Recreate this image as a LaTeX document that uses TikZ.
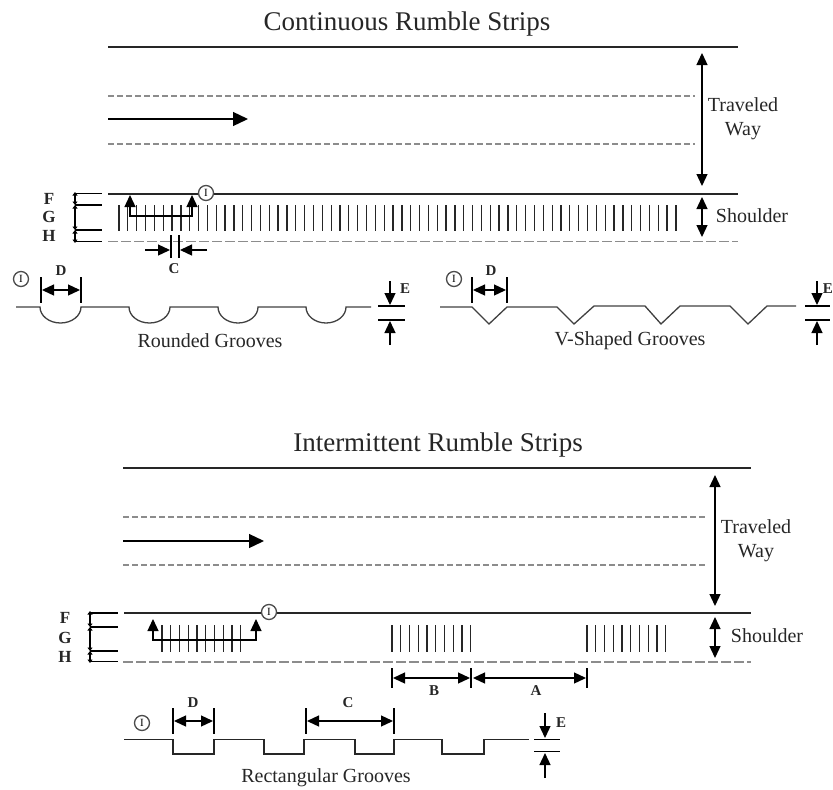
\documentclass[tikz,border=0pt]{standalone}
\usepackage{fontspec}
\setmainfont{Liberation Serif}
\usetikzlibrary{arrows.meta,calc,positioning}

\begin{document}
\begin{tikzpicture}[x=1pt,y=-1pt,>={Stealth[inset=0pt,length=12pt,width=11pt]},
	road/.style={line width=1.5pt,black!85},
	lane/.style={black!45,line width=1.5pt,dash pattern=on 6pt off 3pt},
	edgeline/.style={black!45,line width=1.5pt,dash pattern=on 9.5pt off 3.5pt},
	groove/.style={line width=1.3pt,black!85},
	dim/.style={line width=1.3pt},
	flow/.style={->,>={Stealth[inset=0pt,length=15pt,width=14pt]},line width=1.3pt},
	tiny/.style={<->,>={Stealth[inset=0pt,length=3.5pt,width=5pt]},line width=1.3pt},
	title/.style={font=\fontsize{27}{30}\selectfont,text=black!85,inner sep=0pt},
	txt/.style={font=\fontsize{20}{24}\selectfont,text=black!85,inner sep=0pt},
	ltr/.style={font=\fontsize{15}{18}\selectfont\bfseries,text=black!85,inner sep=0pt},
	off/.style={font=\fontsize{17}{18}\selectfont\bfseries,text=black!85,inner sep=0pt},
	mark1/.style={circle,draw=black!70,fill=white,line width=1.3pt,minimum size=15pt,inner sep=0pt,font=\fontsize{11}{11}\selectfont}]
	\useasboundingbox (0,0) rectangle (833,790);

	% continuous
	\node[title] (t_1) at (407,24) {Continuous Rumble Strips};
	\coordinate (a_1) at (108,47); \coordinate (a_2) at (738,47);
	\coordinate (a_3) at (108,96); \coordinate (a_4) at (695,96);
	\coordinate (a_5) at (108,144); \coordinate (a_6) at (695,144);
	\coordinate (a_7) at (108,119); \coordinate (a_8) at (248,119);
	\coordinate (a_9) at (108,194); \coordinate (a_10) at (738,194);
	\coordinate (a_11) at (108,241.5); \coordinate (a_12) at (738,241.5);
	\coordinate (w_1) at (702,53); \coordinate (w_2) at (702,186);
	\coordinate (s_1) at (702,197); \coordinate (s_2) at (702,237);
	\draw[road] (a_1) -- (a_2);
	\draw[road] (a_9) -- (a_10);
	\draw[lane] (a_3) -- (a_4);
	\draw[lane] (a_5) -- (a_6);
	\draw[edgeline] (a_11) -- (a_12);
	\draw[flow] (a_7) -- (a_8);
	\draw[<->,dim] (w_1) -- (w_2);
	\draw[<->,dim] (s_1) -- (s_2);
	\node[txt,align=center] (way_1) at (743,119) {Traveled\\Way};
	\node[txt] (sh_1) at (752,216) {Shoulder};
	\foreach \i in {0,...,63}
		\draw[groove] ({119+8.84*\i},205) -- ({119+8.84*\i},231);
	\node[mark1] (i_1) at (206,193) {I};

	% offsets
	\draw[dim] (75,193.5) -- (102,193.5) (75,205) -- (102,205) (75,230) -- (102,230) (75,241.5) -- (102,241.5);
	\draw[tiny] (75,192) -- (75,205);
	\draw[tiny] (75,205) -- (75,230);
	\draw[tiny] (75,230) -- (75,243);
	\node[off] (f_1) at (49,199) {F};
	\node[off] (g_1) at (49,217) {G};
	\node[off] (h_1) at (49,236) {H};
	\draw[<->,dim] (130,195) -- (130,216) -- (192,216) -- (192,195);

	% spacing
	\draw[dim] (171,235) -- (171,258) (179,235) -- (179,258);
	\draw[->,dim] (145,250) -- (170,250);
	\draw[->,dim] (207,250) -- (180,250);
	\node[ltr] (c_1) at (174,269) {C};

	% rounded
	\node[mark1] (i_2) at (21,279) {I};
	\draw[dim] (41,277) -- (41,303) (81,277) -- (81,303);
	\draw[<->,dim] (42,290) -- (80,290);
	\node[ltr] (d_1) at (61,271) {D};
	\draw[groove,black!75] (16,307) -- (40,307) arc[start angle=180,end angle=360,x radius=20.5,y radius=-16] -- (129,307) arc[start angle=180,end angle=360,x radius=20.5,y radius=-16] -- (218,307) arc[start angle=180,end angle=360,x radius=20,y radius=-16] -- (306,307) arc[start angle=180,end angle=360,x radius=20,y radius=-16] -- (371,307);
	\draw[->,dim] (390,281) -- (390,305);
	\draw[->,dim] (390,345) -- (390,321);
	\draw[dim] (378,306) -- (405,306) (378,320) -- (405,320);
	\node[ltr] (e_1) at (405,289) {E};
	\node[txt] (r_1) at (210,341) {Rounded Grooves};

	% v-shaped
	\node[mark1] (i_3) at (454,279) {I};
	\draw[dim] (472,277) -- (472,303) (507,277) -- (507,303);
	\draw[<->,dim] (473,290) -- (506,290);
	\node[ltr] (d_2) at (491,271) {D};
	\draw[groove,black!75] (440,307) -- (472,307) -- (489,324) -- (507,307) -- (557,307) -- (574,324) -- (594,306) -- (645,306) -- (661,324) -- (680,306) -- (730,306) -- (748,324) -- (767,306) -- (796,306);
	\draw[->,dim] (817,281) -- (817,305);
	\draw[->,dim] (817,345) -- (817,321);
	\draw[dim] (805,306) -- (830,306) (805,320) -- (830,320);
	\node[ltr,anchor=east] (e_2) at (833,289) {E};
	\node[txt] (r_2) at (630,341) {V-Shaped Grooves};

	% intermittent
	\node[title] (t_2) at (438,445) {Intermittent Rumble Strips};
	\coordinate (b_1) at (123,468); \coordinate (b_2) at (751,468);
	\coordinate (b_3) at (123,517); \coordinate (b_4) at (706,517);
	\coordinate (b_5) at (123,565); \coordinate (b_6) at (706,565);
	\coordinate (b_7) at (123,541); \coordinate (b_8) at (264,541);
	\coordinate (b_9) at (124,613); \coordinate (b_10) at (751,613);
	\coordinate (b_11) at (123,662); \coordinate (b_12) at (751,662);
	\coordinate (w_3) at (715,475); \coordinate (w_4) at (715,606);
	\coordinate (s_3) at (715,617); \coordinate (s_4) at (715,658);
	\draw[road] (b_1) -- (b_2);
	\draw[road] (b_9) -- (b_10);
	\draw[lane] (b_3) -- (b_4);
	\draw[lane] (b_5) -- (b_6);
	\draw[edgeline] (b_11) -- (b_12);
	\draw[flow] (b_7) -- (b_8);
	\draw[<->,dim] (w_3) -- (w_4);
	\draw[<->,dim] (s_3) -- (s_4);
	\node[txt,align=center] (way_2) at (756,541) {Traveled\\Way};
	\node[txt] (sh_2) at (767,636) {Shoulder};
	\foreach \s in {162,392,587}
		\foreach \i in {0,...,9}
			\draw[groove] ({\s+8.75*\i},625) -- ({\s+8.75*\i},652);
	\node[mark1] (i_4) at (269,612) {I};

	\draw[dim] (90,613) -- (118,613) (90,627) -- (118,627) (90,651) -- (118,651) (90,661.5) -- (118,661.5);
	\draw[tiny] (90,611) -- (90,627);
	\draw[tiny] (90,627) -- (90,651);
	\draw[tiny] (90,651) -- (90,663);
	\node[off] (f_2) at (65,618) {F};
	\node[off] (g_2) at (65,638) {G};
	\node[off] (h_2) at (65,657) {H};
	\draw[<->,dim] (153,619) -- (153,640) -- (256,640) -- (256,619);

	\draw[dim] (392,668) -- (392,688) (471,668) -- (471,688) (587,668) -- (587,688);
	\draw[<->,dim] (393,678) -- (470,678);
	\draw[<->,dim] (473,678) -- (586,678);
	\node[ltr] (b_l) at (434,691) {B};
	\node[ltr] (a_l) at (536,691) {A};

	% rectangular
	\node[mark1] (i_5) at (142,723) {I};
	\draw[dim] (173,708) -- (173,734) (214,708) -- (214,734) (306,708) -- (306,734) (394,708) -- (394,734);
	\draw[<->,dim] (174,721) -- (213,721);
	\draw[<->,dim] (307,721) -- (393,721);
	\node[ltr] (d_3) at (193,703) {D};
	\node[ltr] (c_2) at (348,703) {C};
	\draw[groove] (124,739.5) -- (173,739.5) -- (173,754) -- (214,754) -- (214,739.5) -- (264,739.5) -- (264,754) -- (304,754) -- (304,739.5) -- (355,739.5) -- (355,754) -- (394,754) -- (394,739.5) -- (442,739.5) -- (442,754) -- (484,754) -- (484,739.5) -- (529,739.5);
	\draw[->,dim] (545,713) -- (545,738);
	\draw[->,dim] (545,778) -- (545,753);
	\draw[dim] (534,739.5) -- (560,739.5) (534,751.5) -- (560,751.5);
	\node[ltr] (e_3) at (561,723) {E};
	\node[txt] (r_3) at (326,778) {Rectangular Grooves};
\end{tikzpicture}
\end{document}
